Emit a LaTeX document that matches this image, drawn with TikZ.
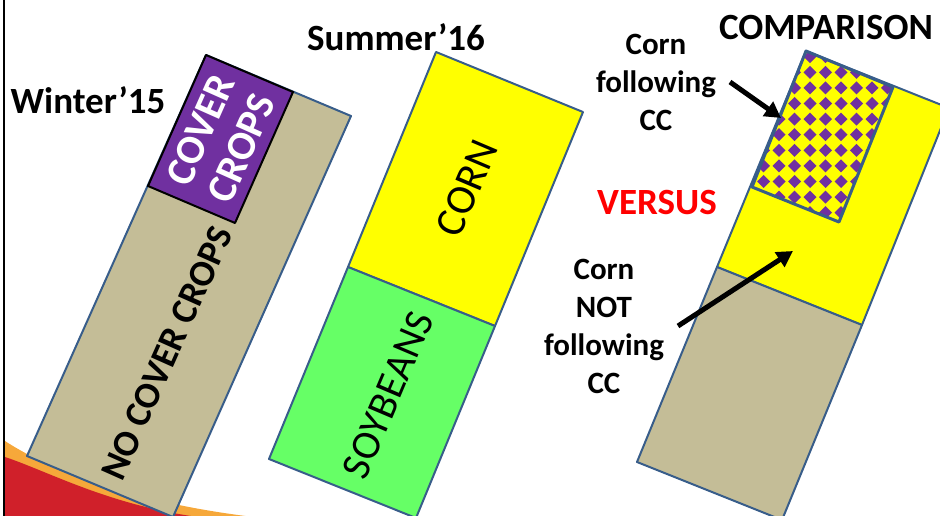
\documentclass[tikz,border=0pt]{standalone}
\usepackage{fontspec}
\setmainfont{Carlito}
\usetikzlibrary{arrows.meta}
\definecolor{fieldblue}{HTML}{385D8A}
\definecolor{fieldtan}{HTML}{C4BD97}
\definecolor{ccpurple}{HTML}{7030A0}
\definecolor{soygreen}{HTML}{66FF66}
\definecolor{cornyellow}{HTML}{FFFF00}
\definecolor{swred}{HTML}{D0202A}
\definecolor{sworange}{HTML}{F6A83A}
\begin{document}
\begin{tikzpicture}[x=1pt,y=-1pt,
  field/.style={draw=fieldblue,line width=2pt,line join=round},
  title/.style={font=\bfseries\fontsize{37}{40}\selectfont,inner sep=0pt},
  note/.style={font=\bfseries\fontsize{31}{38}\selectfont,align=center,inner sep=0pt},
  rottext/.style={inner sep=0pt,align=center},
  pointer/.style={line width=5pt,-{Triangle[length=16pt,width=17pt]}}]
\useasboundingbox (0,0) rectangle (940,516);
\clip (0,0) rectangle (940,516);
% background swoosh
\fill[sworange] (5,441) .. controls (40,464) and (120,502) .. (262,518) -- (5,518) -- cycle;
\fill[swred] (5,457) .. controls (50,472) and (110,506) .. (205,518) -- (5,518) -- cycle;
% coordinates
\coordinate (LA) at (206,55); \coordinate (LB) at (351,116);
\coordinate (LC) at (173,517); \coordinate (LD) at (27,456);
\coordinate (LP1) at (293,92); \coordinate (LP2) at (235,223); \coordinate (LP3) at (148,186);
\coordinate (MA) at (436,52); \coordinate (MB) at (583,112);
\coordinate (MC) at (416,518); \coordinate (MD) at (269,459);
\coordinate (ML) at (348,267); \coordinate (MR) at (495,326);
\coordinate (RA) at (806,51); \coordinate (RB) at (949,108);
\coordinate (RC) at (782,520); \coordinate (RD) at (637,462);
\coordinate (RL) at (717,267); \coordinate (RR) at (862,325);
\coordinate (RP1) at (893,87); \coordinate (RP2) at (839,222); \coordinate (RP3) at (752,187);
% left field
\draw[field,fill=fieldtan] (LA) -- (LB) -- (LC) -- (LD) -- cycle;
\draw[fill=ccpurple,draw=black,line width=2pt,line join=round] (LA) -- (LP1) -- (LP2) -- (LP3) -- cycle;
% middle field
\draw[field,fill=cornyellow] (MA) -- (MB) -- (MR) -- (ML) -- cycle;
\draw[field,fill=soygreen] (ML) -- (MR) -- (MC) -- (MD) -- cycle;
% right field
\draw[field,fill=cornyellow] (RA) -- (RB) -- (RR) -- (RL) -- cycle;
\draw[field,fill=fieldtan] (RL) -- (RR) -- (RC) -- (RD) -- cycle;
\begin{scope}
  \clip (RA) -- (RP1) -- (RP2) -- (RP3) -- cycle;
  \fill[cornyellow] (RA) -- (RP1) -- (RP2) -- (RP3) -- cycle;
  \foreach \i in {-5,...,6} {
    \foreach \j in {-2,...,10} {
      \fill[ccpurple] ({810+15.5*\i},{72.3+15.6*\j}) +(-6.5,0) -- +(0,-6.5) -- +(6.5,0) -- +(0,6.5) -- cycle;
    }
  }
\end{scope}
\draw[draw=fieldblue,line width=3pt,line join=round] (RA) -- (RP1) -- (RP2) -- (RP3) -- cycle;
% left border
\draw[black,line width=2pt] (3.5,0) -- (3.5,516);
% titles
\node[title] (winter) at (88,100) {Winter’15};
\node[title] (summer) at (396,37) {Summer’16};
\node[title] (comparison) at (826,27) {COMPARISON};
\node[note] (cornfol) at (656,82) {Corn\\following\\CC};
\node[note,text=red,font=\bfseries\fontsize{37}{40}\selectfont] (versus) at (657,203) {VERSUS};
\node[note] (cornnot) at (604,326) {Corn\\NOT\\following\\CC};
% rotated labels
\node[rottext,rotate=66,text=white,font=\bfseries\fontsize{41}{45}\selectfont] (cc) at (221,139) {COVER\\CROPS};
\node[rottext,rotate=66,font=\bfseries\fontsize{37}{40}\selectfont] (nocc) at (167,353) {NO COVER CROPS};
\node[rottext,rotate=67,font=\fontsize{42}{46}\selectfont] (corn) at (467,188) {CORN};
\node[rottext,rotate=67,font=\fontsize{41}{46}\selectfont] (soy) at (388,395) {SOYBEANS};
% arrows
\coordinate (a1s) at (730,82); \coordinate (a1e) at (781,118);
\coordinate (a2s) at (678,326); \coordinate (a2e) at (793,251);
\draw[pointer] (a1s) -- (a1e);
\draw[pointer] (a2s) -- (a2e);
\end{tikzpicture}
\end{document}
